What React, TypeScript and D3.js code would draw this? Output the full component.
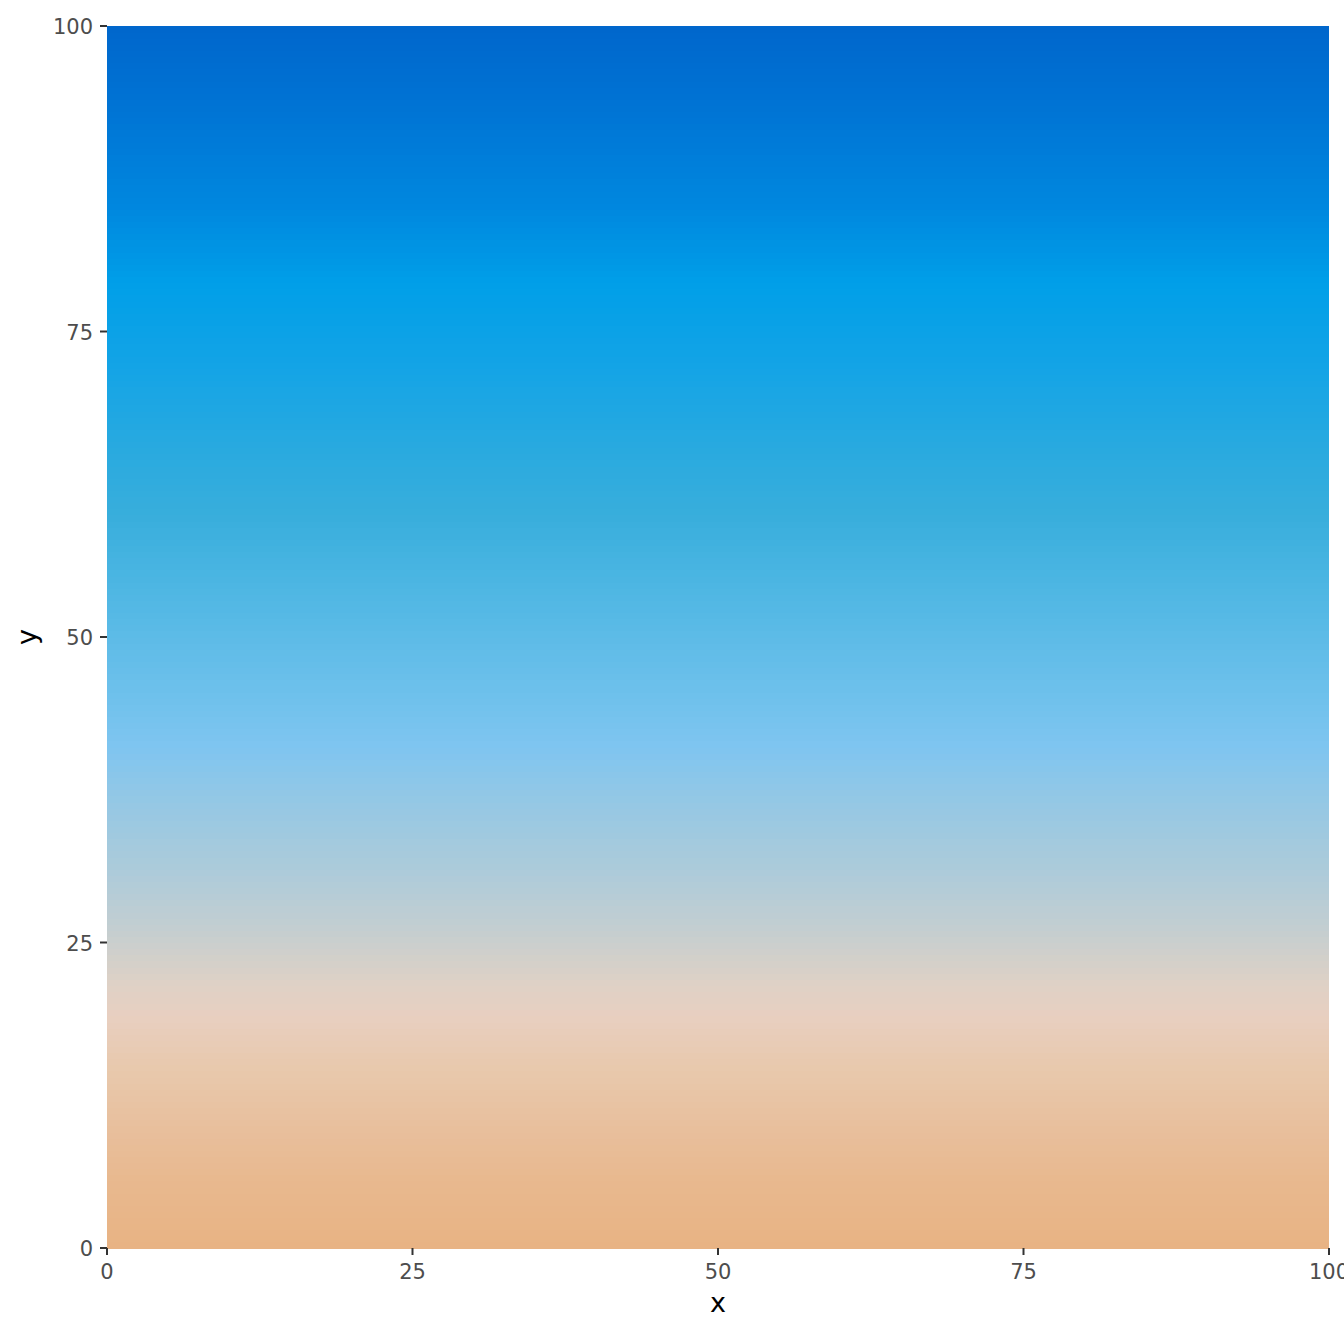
import React from "react";
import * as d3 from "d3";

const stopValues = [0, 5, 10, 15, 19, 22, 26, 31, 36, 41, 45, 50, 55, 60, 65, 72, 79, 85, 92, 100];
const stopColors = [
  "#E8B383", "#E8B88D", "#E8BF9D", "#E8C9AE", "#E8CFC0", "#DDD1C6", "#C4CED0", "#ACCBDA",
  "#97C8E3", "#7FC5F0", "#6FC1EC", "#5DBBE7", "#4AB5E2", "#38AEDC", "#2AAADF", "#14A4E6",
  "#009FE8", "#0088DF", "#0077D6", "#0066CC",
];
const xTicks = [0, 25, 50, 75, 100];
const yTicks = [0, 25, 50, 75, 100];
const rowValues = d3.range(0, 100, 0.5);

const W = 1344;
const H = 1344;
const left = 107;
const right = 1329;
const top = 26;
const bottom = 1248;

export default function App() {
  const x = d3.scaleLinear().domain([0, 100]).range([left, right]);
  const y = d3.scaleLinear().domain([0, 100]).range([bottom, top]);
  const color = d3
    .scaleLinear<string>()
    .domain(stopValues)
    .range(stopColors)
    .interpolate(d3.interpolateRgb);
  const step = 0.5;
  const font = "DejaVu Sans, sans-serif";
  return (
    <svg
      width={W}
      height={H}
      style={{ position: "absolute", left: 0, top: 0, background: "#fff" }}
    >
      <g shapeRendering="crispEdges">
        {rowValues.map((v) => (
          <rect
            key={v}
            x={x(0)}
            width={x(100) - x(0)}
            y={y(v + step)}
            height={y(v) - y(v + step) + 0.6}
            fill={color(v + step / 2)}
          />
        ))}
      </g>
      {yTicks.map((t) => (
        <g key={"y" + t}>
          <line x1={left - 7} x2={left} y1={y(t)} y2={y(t)} stroke="#333" strokeWidth={2} />
          <text
            x={left - 14}
            y={y(t) + 8}
            textAnchor="end"
            fontFamily={font}
            fontSize={21}
            fill="#4D4D4D"
          >
            {t}
          </text>
        </g>
      ))}
      {xTicks.map((t) => (
        <g key={"x" + t}>
          <line x1={x(t)} x2={x(t)} y1={bottom} y2={bottom + 7} stroke="#333" strokeWidth={2} />
          <text
            x={x(t)}
            y={1279}
            textAnchor="middle"
            fontFamily={font}
            fontSize={21}
            fill="#4D4D4D"
          >
            {t}
          </text>
        </g>
      ))}
      <text
        x={(left + right) / 2}
        y={1312}
        textAnchor="middle"
        fontFamily={font}
        fontSize={27}
        fill="#000"
      >
        x
      </text>
      <text
        transform={`translate(36, ${(top + bottom) / 2}) rotate(-90)`}
        textAnchor="middle"
        fontFamily={font}
        fontSize={27}
        fill="#000"
      >
        y
      </text>
    </svg>
  );
}
